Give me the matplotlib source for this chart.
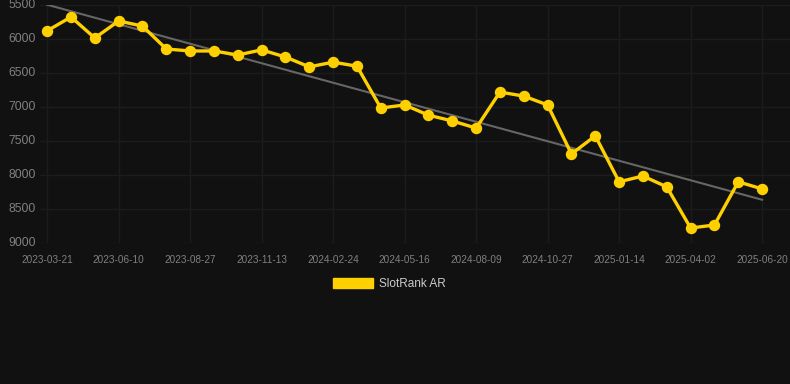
import numpy as np
import matplotlib.pyplot as plt
from matplotlib.patches import Patch

plt.rcParams['font.family'] = ['Liberation Sans', 'DejaVu Sans']

# rank values (lower rank number = better, axis inverted)
dates = ['2023-03-21', '', '', '2023-06-10', '', '', '2023-08-27', '', '', '2023-11-13', '', '',
         '2024-02-24', '', '', '2024-05-16', '', '', '2024-08-09', '', '', '2024-10-27', '', '',
         '2025-01-14', '', '', '2025-04-02', '', '', '2025-06-20']
rank = [5880, 5676, 5985, 5735, 5810, 6147, 6176, 6176, 6235, 6160, 6265, 6410, 6340, 6400,
        7015, 6970, 7120, 7205, 7310, 6780, 6840, 6970, 7690, 7425, 8100, 8015, 8175, 8780,
        8735, 8100, 8205]
yticks = [5500, 6000, 6500, 7000, 7500, 8000, 8500, 9000]

bg = '#111111'
gold = '#FFD000'

fig = plt.figure(figsize=(7.9, 3.84), dpi=100, facecolor=bg)
ax = fig.add_axes([40 / 790, 1 - 243 / 384, 750 / 790, 238 / 384], facecolor=bg)

x = np.arange(len(rank))

# linear trend
k, b = np.polyfit(x, rank, 1)
ax.plot([x[0], x[-1]], [k * x[0] + b, k * x[-1] + b], color='#666666', lw=1.5, zorder=2)

ax.plot(x, rank, color=gold, lw=2.4, marker='o', ms=7.2, zorder=3)

ax.set_ylim(9000, 5500)
ax.set_xlim(-0.3, len(rank) - 1 + 1.17)
ax.set_yticks(yticks)
ax.set_yticklabels([str(v) for v in yticks])
tick_pos = [i for i, d in enumerate(dates) if d]
ax.set_xticks(tick_pos)
ax.set_xticklabels([dates[i] for i in tick_pos])

ax.grid(True, color='#1c1c1c', lw=1)
ax.set_axisbelow(True)
for s in ax.spines.values():
    s.set_visible(False)
ax.tick_params(axis='y', length=0, pad=3, labelsize=8.8, labelcolor='#808080')
ax.tick_params(axis='x', length=0, pad=8.5, labelsize=7.2, labelcolor='#808080')
for lab in ax.get_yticklabels():
    lab.set_va('center')

fig.legend(handles=[Patch(color=gold, label='SlotRank AR')], loc='center',
           bbox_to_anchor=(0.5 - 6 / 790, 1 - 284 / 384), frameon=False, fontsize=8.5,
           labelcolor='#cccccc', handlelength=3.4, handleheight=0.95, handletextpad=0.5)

fig.savefig('out.png', dpi=100, facecolor=bg)
